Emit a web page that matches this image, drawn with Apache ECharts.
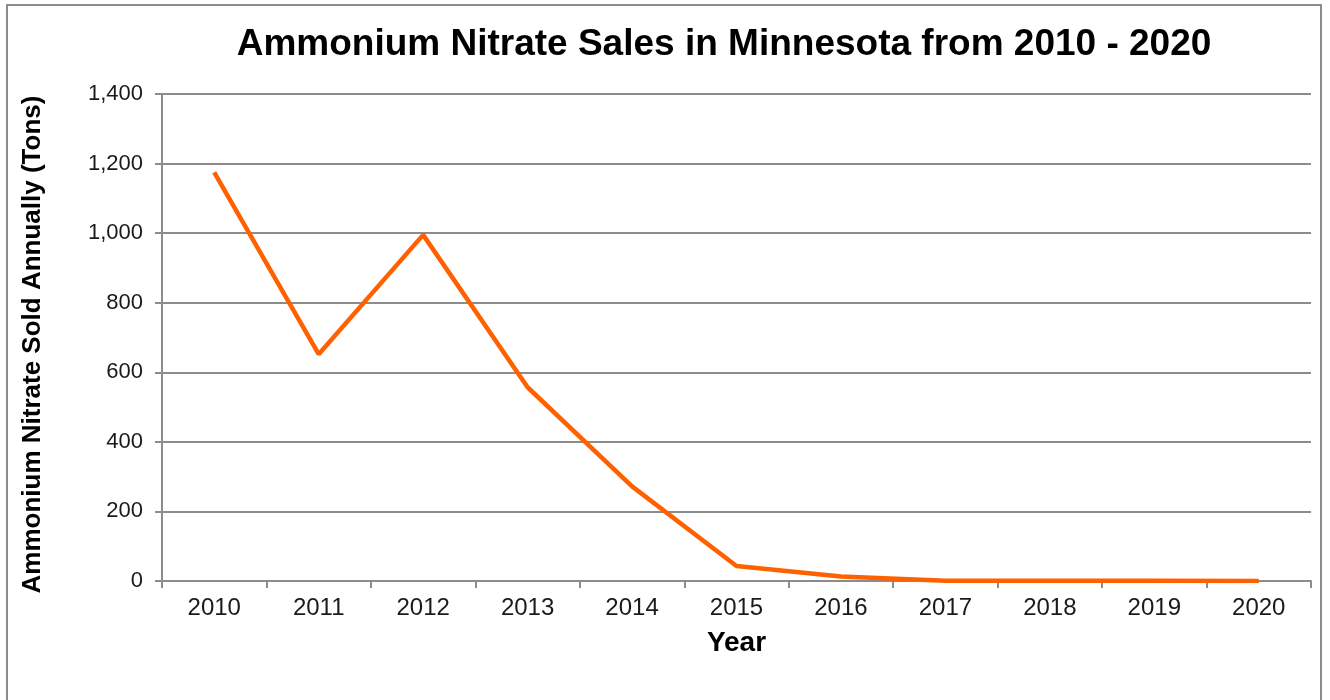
<html>
<head>
<meta charset="UTF-8">
<title>Ammonium Nitrate Sales in Minnesota</title>
<script src="https://cdn.jsdelivr.net/npm/echarts@6/dist/echarts.min.js"></script>
<style>
html,body{margin:0;padding:0;background:#fff;}
#container{position:absolute;left:6px;top:4px;width:1316px;height:700px;border:2px solid #8c8c8c;box-sizing:border-box;}
</style>
</head>
<body>
<div id="container"></div>
<script>
// years on the x axis
var years = ['2010','2011','2012','2013','2014','2015','2016','2017','2018','2019','2020'];
// tons sold per year
var tons = [1175, 652, 995, 557, 272, 43, 13, 1, 1, 1, 0];

var chart = echarts.init(document.getElementById('container'));
var fontFam = '"Liberation Sans", Arial, sans-serif';

chart.setOption({
	backgroundColor: '#fff',
	animation: false,
	title: {
		text: 'Ammonium Nitrate Sales in Minnesota from 2010 - 2020',
		left: 711,
		top: 15,
		textAlign: 'center',
		textStyle: { fontFamily: fontFam, fontSize: 37, fontWeight: 'bold', color: '#000' }
	},
	grid: { left: 154, right: 9, top: 88, bottom: 121, containLabel: false },
	xAxis: {
		type: 'category',
		data: years,
		boundaryGap: true,
		name: 'Year',
		nameLocation: 'middle',
		nameGap: 48,
		nameTextStyle: { fontFamily: fontFam, fontSize: 28, fontWeight: 'bold', color: '#000' },
		axisLine: { lineStyle: { color: '#8c8c8c', width: 2 } },
		axisTick: { show: true, length: 7, lineStyle: { color: '#8c8c8c', width: 2 } },
		axisLabel: { fontFamily: fontFam, fontSize: 24, color: '#1a1a1a', margin: 15 }
	},
	yAxis: {
		type: 'value',
		min: 0,
		max: 1400,
		interval: 200,
		name: 'Ammonium Nitrate Sold Annually (Tons)',
		nameLocation: 'middle',
		nameGap: 116,
		nameTextStyle: { fontFamily: fontFam, fontSize: 26, fontWeight: 'bold', color: '#000', padding: [0, 14, 0, 0] },
		axisLine: { show: true, lineStyle: { color: '#8c8c8c', width: 2 } },
		axisTick: { show: true, length: 7, lineStyle: { color: '#8c8c8c', width: 2 } },
		axisLabel: {
			fontFamily: fontFam, fontSize: 22, color: '#1a1a1a', margin: 19,
			formatter: function (v) { return v.toLocaleString('en-US'); }
		},
		splitLine: { lineStyle: { color: '#8c8c8c', width: 2 } }
	},
	series: [{
		type: 'line',
		data: tons,
		symbol: 'none',
		lineStyle: { color: '#ff6100', width: 4.5 },
		itemStyle: { color: '#ff6100' }
	}]
});
</script>
</body>
</html>
